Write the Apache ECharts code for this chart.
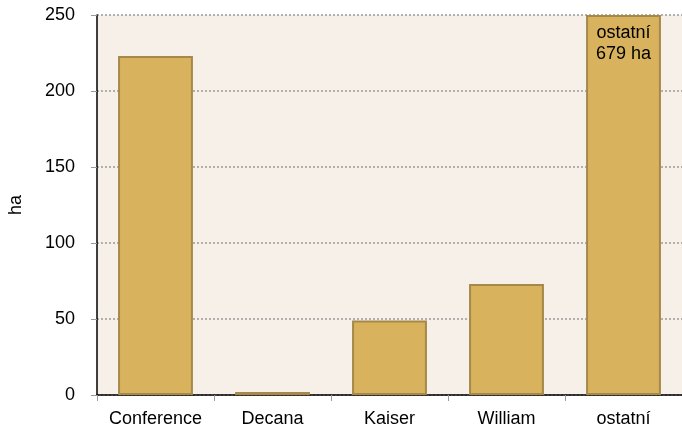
<!DOCTYPE html>
<html>
<head>
<meta charset="utf-8">
<script src="https://cdn.jsdelivr.net/npm/echarts@6/dist/echarts.min.js"></script>
<style>
  html, body { margin: 0; padding: 0; background: #fff; }
  #bar { width: 682px; height: 430px; }
</style>
</head>
<body>
<div id="bar"></div>
<script>
var categories = ['Conference', 'Decana', 'Kaiser', 'William', 'ostatní'];
var areas = [223, 2, 49, 73, 679];
var yMax = 250;
var yStep = 50;

var myChart = echarts.init(document.getElementById('bar'));

// bars above the axis max are cut at the top and labelled with their real value
var barData = areas.map(function (v, i) {
    var item = { value: Math.min(v, yMax) };
    if (v > yMax) {
        item.label = {
            show: true,
            position: 'insideTop',
            distance: 8,
            formatter: categories[i] + '\n' + v + ' ha',
            color: '#000',
            fontSize: 18,
            lineHeight: 21,
            fontFamily: 'Liberation Sans, Arial, sans-serif'
        };
    }
    return item;
});

var option = {
    animation: false,
    grid: {
        left: 97,
        right: 0,
        top: 15,
        bottom: 35,
        outerBoundsMode: 'none',
        containLabel: false,
        show: true,
        backgroundColor: '#f7f0e9',
        borderWidth: 0
    },
    xAxis: {
        type: 'category',
        data: categories,
        axisLine: { lineStyle: { color: '#000', width: 1.5 } },
        axisTick: { show: true, length: 6, lineStyle: { color: '#999' } },
        axisLabel: {
            interval: 0,
            color: '#000',
            fontSize: 18,
            margin: 15,
            fontFamily: 'Liberation Sans, Arial, sans-serif'
        }
    },
    yAxis: {
        type: 'value',
        min: 0,
        max: yMax,
        interval: yStep,
        name: 'ha',
        nameLocation: 'middle',
        nameGap: 72,
        nameTextStyle: {
            color: '#000',
            fontSize: 18,
            fontFamily: 'Liberation Sans, Arial, sans-serif'
        },
        axisLine: { show: true, lineStyle: { color: '#000', width: 1.5 } },
        axisTick: { show: true, length: 6, lineStyle: { color: '#999' } },
        axisLabel: {
            color: '#000',
            fontSize: 18,
            margin: 22,
            fontFamily: 'Liberation Sans, Arial, sans-serif'
        },
        splitLine: {
            show: true,
            lineStyle: { color: '#999', type: [2, 2], width: 1.5 }
        }
    },
    series: [{
        type: 'bar',
        data: barData,
        barWidth: '64%',
        itemStyle: {
            color: '#d8b25c',
            borderColor: '#a5884a',
            borderWidth: 2
        }
    }]
};

myChart.setOption(option);
</script>
</body>
</html>
